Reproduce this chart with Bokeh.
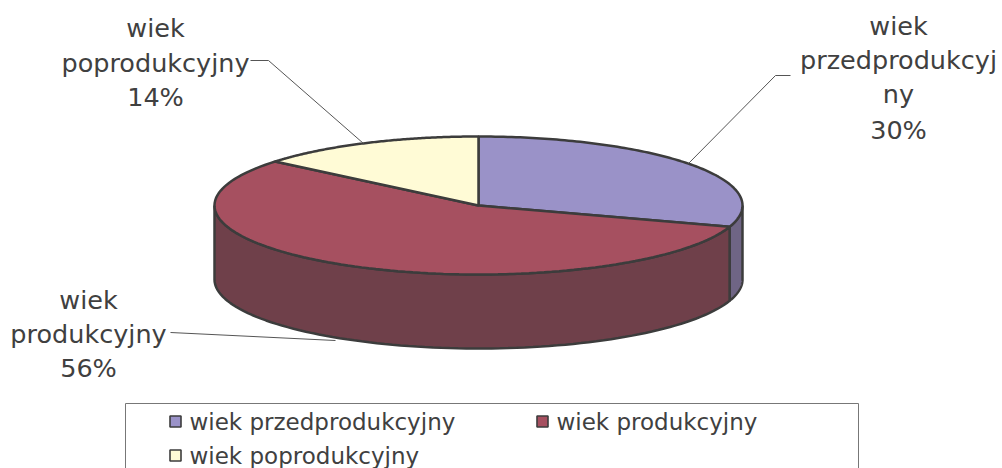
import numpy as np
from bokeh.plotting import figure
from bokeh.core.properties import value
from bokeh.embed import file_html
from bokeh.resources import INLINE

categories = ["wiek przedprodukcyjny", "wiek produkcyjny", "wiek poprodukcyjny"]
values = [30, 56, 14]
top_colors = ["#9A92C8", "#A65060", "#FFFBD6"]
side_colors = ["#6F6585", "#6F404A", "#A8A58C"]
label_lines = [["wiek", "przedprodukcyj", "ny", "30%"],
               ["wiek", "produkcyjny", "56%"],
               ["wiek", "poprodukcyjny", "14%"]]

CX, CY, RX, RY, DEPTH = 478, 205, 264, 69, 74
EDGE = "#3C3C3C"; TXT = "#404040"; FONT = value("DejaVu Sans")

p = figure(width=1002, height=468, output_backend="svg", toolbar_location=None,
           x_range=(0, 1002), y_range=(468, 0), min_border=0)
p.axis.visible = False
p.grid.visible = False
p.outline_line_color = None
p.background_fill_color = "white"

fr = np.cumsum([0] + values) / sum(values)
th0 = fr[:-1] * 2 * np.pi
th1 = fr[1:] * 2 * np.pi

def pt(t, dy=0.0):
    return CX + RX * np.sin(t), CY - RY * np.cos(t) + dy

# side walls (visible part: pi/2 .. 3pi/2)
for a, b, c in zip(th0, th1, side_colors):
    lo, hi = max(a, np.pi / 2), min(b, 3 * np.pi / 2)
    if hi <= lo:
        continue
    t = np.linspace(lo, hi, 90)
    x1, y1 = pt(t)
    x2, y2 = pt(t[::-1], DEPTH)
    p.patch(np.r_[x1, x2], np.r_[y1, y2], fill_color=c, line_color=EDGE, line_width=2.5)

# top faces
for a, b, c in zip(th0, th1, top_colors):
    t = np.linspace(a, b, 120)
    x, y = pt(t)
    p.patch(np.r_[CX, x], np.r_[CY, y], fill_color=c, line_color=EDGE, line_width=2.5)

# leader lines
p.line([250, 268, 363], [60, 60, 143], line_color="#555555", line_width=1)
p.line([790, 775, 688], [75, 75, 163], line_color="#555555", line_width=1)
p.line([170, 335], [332, 340], line_color="#555555", line_width=1)

# data labels
label_pos = [(898, [25, 59, 93, 129]), (88, [299, 333, 367]), (155, [27, 62, 96])]
for (lx, ys), lines in zip(label_pos, label_lines):
    p.text([lx] * len(lines), ys, text=lines, text_font=FONT, text_font_size="25.5px",
           text_color=TXT, text_align="center", text_baseline="middle")

# legend box (cut by the bottom edge of the picture)
p.line([125, 125, 858, 858], [468, 403, 403, 468], line_color="#777777", line_width=1)
leg_x = [170, 537, 170]
leg_y = [421, 421, 455]
p.scatter([x + 5 for x in leg_x], leg_y, marker="square", size=11, fill_color=top_colors,
          line_color=EDGE, line_width=1.6)
p.text([x + 19 for x in leg_x], leg_y, text=categories, text_font=FONT, text_font_size="23px",
       text_color=TXT, text_align="left", text_baseline="middle")

open("out.html", "w").write(file_html(p, INLINE))
